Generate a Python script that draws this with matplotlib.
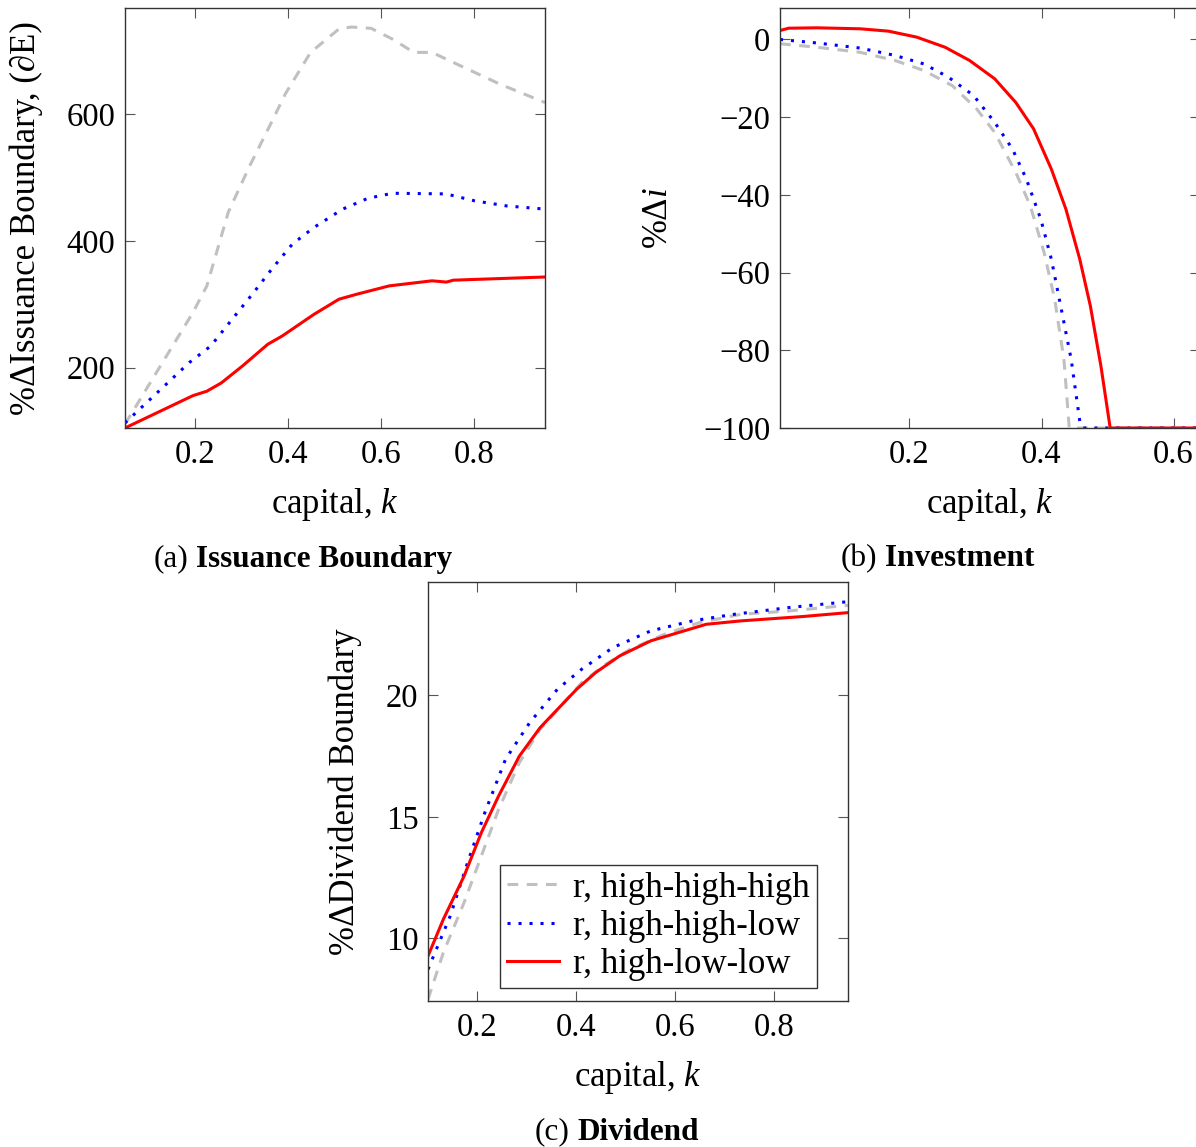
import numpy as np
import matplotlib
matplotlib.use("Agg")
import matplotlib.pyplot as plt

plt.rcParams['font.family'] = ['Liberation Serif', 'DejaVu Serif']
plt.rcParams['mathtext.fontset'] = 'custom'
plt.rcParams['mathtext.rm'] = 'Liberation Serif'
plt.rcParams['mathtext.it'] = 'Liberation Serif:italic'
plt.rcParams['font.size'] = 24

# ---- data ----
labels = ["r, high-high-high", "r, high-high-low", "r, high-low-low"]
colors = ["#c0c0c0", "#0000ff", "#ff0000"]
styles = [(0, (3.5, 2.8)), (0, (1, 2.6)), "-"]

# (a) issuance boundary
a_k_hhh = [0.05, 0.196, 0.226, 0.272, 0.318, 0.365, 0.395, 0.449, 0.510, 0.537, 0.579, 0.625, 0.671, 0.710, 0.771, 0.856, 0.953]
a_y_hhh = [111, 287, 329, 445, 518, 587, 632, 697, 734, 737, 735, 718, 697, 697, 676, 647, 618]
a_k_hhl = [0.05, 0.188, 0.234, 0.280, 0.326, 0.365, 0.410, 0.456, 0.518, 0.572, 0.625, 0.740, 0.802, 0.871, 0.953]
a_y_hhl = [113, 208, 234, 276, 318, 355, 395, 421, 450, 467, 475, 474, 463, 455, 450]
a_k_hll = [0.05, 0.196, 0.226, 0.257, 0.303, 0.357, 0.388, 0.456, 0.510, 0.549, 0.618, 0.710, 0.741, 0.756, 0.953]
a_y_hll = [105, 156, 163, 176, 203, 237, 250, 284, 308, 316, 329, 337, 335, 338, 343]

# (b) investment
b_k_hhh = [0.004, 0.06, 0.125, 0.178, 0.222, 0.265, 0.302, 0.329, 0.361, 0.383, 0.404, 0.420, 0.434, 0.442, 0.64]
b_y_hhh = [-1.1, -2.0, -3.3, -5.4, -8.0, -11.9, -17.9, -23.9, -34.2, -42.8, -54.9, -66.9, -82.4, -100, -100]
b_k_hhl = [0.004, 0.06, 0.125, 0.178, 0.222, 0.259, 0.297, 0.329, 0.356, 0.377, 0.399, 0.415, 0.431, 0.445, 0.458, 0.463, 0.64]
b_y_hhl = [0.0, -0.9, -2.2, -4.1, -6.3, -9.7, -14.4, -21.3, -28.2, -35.9, -46.3, -56.6, -70.3, -82.4, -98.3, -100, -100]
b_k_hll = [0.004, 0.017, 0.06, 0.125, 0.168, 0.211, 0.254, 0.291, 0.329, 0.361, 0.388, 0.415, 0.437, 0.458, 0.474, 0.490, 0.504, 0.64]
b_y_hll = [2.3, 2.9, 3.0, 2.75, 2.15, 0.6, -2.0, -5.4, -10.1, -16.2, -23.0, -33.4, -43.7, -56.6, -68.6, -84.1, -100, -100]

# (c) dividend boundary
c_k_hhh = [0.1, 0.131, 0.173, 0.208, 0.243, 0.285, 0.327, 0.369, 0.411, 0.460, 0.509, 0.579, 0.649, 0.733, 0.831, 0.95]
c_y_hhh = [7.49, 9.41, 11.47, 13.39, 15.31, 17.23, 18.60, 19.56, 20.52, 21.28, 21.89, 22.51, 22.99, 23.33, 23.47, 23.70]
c_k_hhl = [0.1, 0.117, 0.145, 0.180, 0.215, 0.257, 0.306, 0.362, 0.411, 0.474, 0.551, 0.635, 0.719, 0.831, 0.95]
c_y_hhl = [8.72, 9.55, 10.92, 13.11, 15.17, 17.37, 18.88, 20.25, 21.07, 21.96, 22.65, 23.06, 23.33, 23.61, 23.85]
c_k_hll = [0.1, 0.131, 0.173, 0.208, 0.243, 0.285, 0.327, 0.362, 0.401, 0.439, 0.488, 0.551, 0.607, 0.663, 0.733, 0.859, 0.95]
c_y_hll = [9.27, 10.78, 12.56, 14.35, 15.86, 17.50, 18.67, 19.42, 20.25, 20.93, 21.62, 22.24, 22.58, 22.92, 23.06, 23.24, 23.40]

W, H = 1196, 1147
fig = plt.figure(figsize=(W / 100, H / 100), dpi=100)

LBL = 25     # axis labels / legend
TCK = 23.5   # tick labels
CAP = 22.5   # captions


def px_axes(left, top, right, bottom):
    return fig.add_axes([left / W, 1 - bottom / H, (right - left) / W, (bottom - top) / H])


def style(ax):
    for s in ax.spines.values():
        s.set_color("#333333")
        s.set_linewidth(1.0)
    ax.tick_params(direction="in", length=7, width=0.8, color="#555555",
                   top=True, right=True, labelsize=TCK)
    ax.tick_params(axis="x", pad=8)
    ax.tick_params(axis="y", pad=7)


axa = px_axes(125, 8, 545, 428)
axb = px_axes(780, 8, 1200, 428)
axc = px_axes(428, 582, 848, 1001)

for k, y, c, ls in zip([a_k_hhh, a_k_hhl, a_k_hll], [a_y_hhh, a_y_hhl, a_y_hll], colors, styles):
    axa.plot(k, y, color=c, linestyle=ls, linewidth=2.2)
for k, y, c, ls in zip([b_k_hhh, b_k_hhl, b_k_hll], [b_y_hhh, b_y_hhl, b_y_hll], colors, styles):
    axb.plot(k, y, color=c, linestyle=ls, linewidth=2.2)
for k, y, c, ls, lab in zip([c_k_hhh, c_k_hhl, c_k_hll], [c_y_hhh, c_y_hhl, c_y_hll], colors, styles, labels):
    axc.plot(k, y, color=c, linestyle=ls, linewidth=2.2, label=lab)

axa.set_xlim(0.05, 0.953)
axa.set_ylim(105, 767)
axa.set_xticks([0.2, 0.4, 0.6, 0.8])
axa.set_yticks([200, 400, 600])

axb.set_xlim(0.004, 0.64)
axb.set_ylim(-100, 8.1)
axb.set_xticks([0.2, 0.4, 0.6])
axb.set_yticks([-100, -80, -60, -40, -20, 0])

axc.set_xlim(0.1, 0.95)
axc.set_ylim(7.42, 24.66)
axc.set_xticks([0.2, 0.4, 0.6, 0.8])
axc.set_yticks([10, 15, 20])

for ax in (axa, axb, axc):
    style(ax)
    ax.set_xlabel("capital, $k$", fontsize=LBL)
    ax.xaxis.set_label_coords(0.5, -0.138)
    ax.xaxis.label.set_va("top")

axa.set_ylabel("%ΔIssuance Boundary, (∂E)", fontsize=LBL)
axa.yaxis.set_label_coords(-0.195, 0.5)
axb.set_ylabel("%Δ$i$", fontsize=LBL)
axb.yaxis.set_label_coords(-0.25, 0.5)
axc.set_ylabel("%ΔDividend Boundary", fontsize=LBL)
axc.yaxis.set_label_coords(-0.157, 0.5)

leg = axc.legend(loc="lower right", bbox_to_anchor=(0.926, 0.031), fontsize=LBL,
                 frameon=True, fancybox=False, edgecolor="#333333", framealpha=1,
                 handlelength=1.5, handletextpad=0.4, labelspacing=0.15,
                 borderpad=0.2, borderaxespad=0)
leg.get_frame().set_linewidth(1.0)

# captions
fig.text(188 / W, 1 - 559 / H, "(a)", ha="right", va="center", fontsize=CAP)
fig.text(196 / W, 1 - 559 / H, "Issuance Boundary", ha="left", va="center", fontsize=CAP, weight="bold")
fig.text(877 / W, 1 - 559 / H, "(b)", ha="right", va="center", fontsize=CAP)
fig.text(885 / W, 1 - 559 / H, "Investment", ha="left", va="center", fontsize=CAP, weight="bold")
fig.text(569 / W, 1 - 1132 / H, "(c)", ha="right", va="center", fontsize=CAP)
fig.text(578 / W, 1 - 1132 / H, "Dividend", ha="left", va="center", fontsize=CAP, weight="bold")

fig.savefig("out.png", dpi=100)
